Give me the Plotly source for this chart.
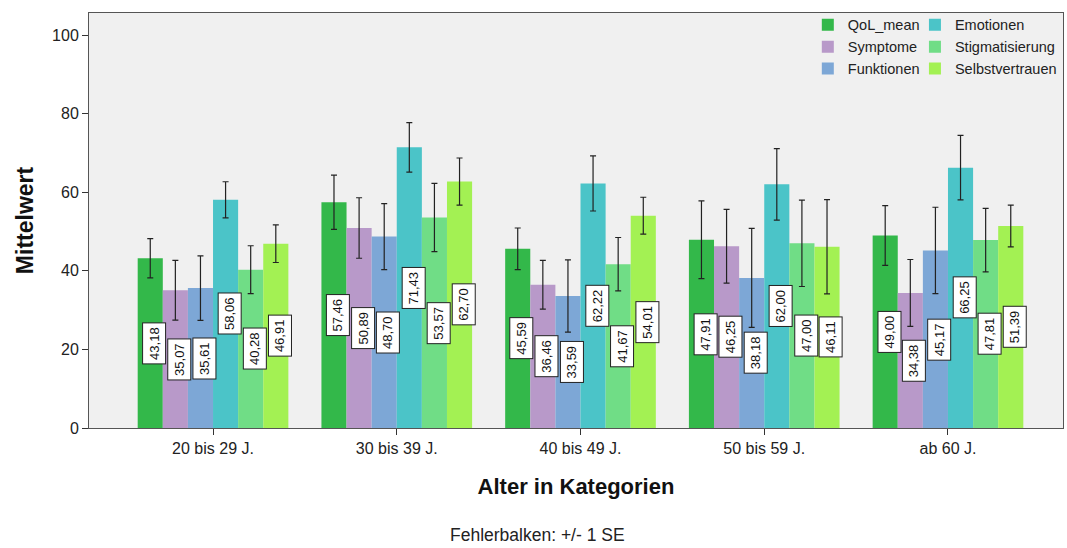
import plotly.graph_objects as go

categories = ["20 bis 29 J.", "30 bis 39 J.", "40 bis 49 J.", "50 bis 59 J.", "ab 60 J."]
series_names = ["QoL_mean", "Symptome", "Funktionen", "Emotionen", "Stigmatisierung", "Selbstvertrauen"]

qol_mean = [43.18, 57.46, 45.59, 47.91, 49.00]
symptome = [35.07, 50.89, 36.46, 46.25, 34.38]
funktionen = [35.61, 48.70, 33.59, 38.18, 45.17]
emotionen = [58.06, 71.43, 62.22, 62.00, 66.25]
stigmatisierung = [40.28, 53.57, 41.67, 47.00, 47.81]
selbstvertrauen = [46.91, 62.70, 54.01, 46.11, 51.39]

# standard errors
se_qol_mean = [5.0, 6.9, 5.3, 9.9, 7.6]
se_symptome = [7.6, 7.7, 6.2, 9.4, 8.5]
se_funktionen = [8.2, 8.4, 9.2, 12.6, 11.0]
se_emotionen = [4.6, 6.3, 7.0, 9.1, 8.2]
se_stigmatisierung = [6.1, 8.7, 6.8, 11.0, 8.1]
se_selbstvertrauen = [4.8, 6.0, 4.7, 12.0, 5.3]

values = [qol_mean, symptome, funktionen, emotionen, stigmatisierung, selbstvertrauen]
errors = [se_qol_mean, se_symptome, se_funktionen, se_emotionen, se_stigmatisierung, se_selbstvertrauen]
colors = ["#33b84a", "#b899c9", "#7da7d6", "#4bc4c8", "#70dd86", "#a3f153"]
legend_ids = ["legend", "legend", "legend", "legend2", "legend2", "legend2"]

FONT = "Liberation Sans, Arial, sans-serif"
fig = go.Figure()
for name, vals, errs, col, lg in zip(series_names, values, errors, colors, legend_ids):
    fig.add_trace(go.Bar(
        x=categories, y=vals, name=name, legend=lg,
        marker=dict(color=col, line=dict(width=0)),
        error_y=dict(type="data", array=errs, visible=True, color="#222222", thickness=1.2, width=3),
    ))

bargap = 0.18
cat_px = 974 / (4.626 + 0.675)
bar_px = cat_px * (1 - bargap) / 6
for i, vals in enumerate(values):
    for c, v in zip(categories, vals):
        fig.add_annotation(
            x=c, y=v / 2, xref="x", yref="y",
            text=f"{v:.2f}".replace(".", ","),
            textangle=-90, showarrow=False,
            xshift=(i - 2.5) * bar_px + 4,
            bgcolor="white", bordercolor="#222222", borderwidth=1, borderpad=3.5,
            font=dict(family=FONT, size=13, color="#111111"),
        )

fig.add_annotation(
    x=(537 - 89) / 974, y=(428 - 535) / 415, xref="paper", yref="paper", yanchor="middle",
    text="Fehlerbalken: +/- 1 SE", showarrow=False,
    font=dict(family=FONT, size=17.5, color="#222222"),
)

legend_common = dict(
    font=dict(family=FONT, size=14.5, color="#222222"),
    bgcolor="rgba(0,0,0,0)", orientation="v",
    yanchor="top", y=1.01, xanchor="left", tracegroupgap=0, itemwidth=30,
)

fig.update_layout(
    width=1067, height=548,
    margin=dict(l=89, r=4, t=13, b=120),
    paper_bgcolor="white", plot_bgcolor="#f0f0f0",
    barmode="group", bargap=bargap, bargroupgap=0,
    font=dict(family=FONT, size=15, color="#222222"),
    legend=dict(x=0.738, **legend_common),
    legend2=dict(x=0.848, **legend_common),
    xaxis=dict(
        type="category", range=[-0.675, 4.626],
        showline=True, linecolor="#555555", linewidth=1, mirror=True,
        ticks="outside", ticklen=6, tickcolor="#333333",
        tickfont=dict(family=FONT, size=16, color="#222222"),
        title=dict(text="<b>Alter in Kategorien</b>", font=dict(family=FONT, size=22, color="#111111"), standoff=22),
        showgrid=False, zeroline=False,
    ),
    yaxis=dict(
        range=[0, 105.6], tickvals=[0, 20, 40, 60, 80, 100],
        showline=True, linecolor="#555555", linewidth=1, mirror=True,
        ticks="outside", ticklen=6, tickcolor="#333333",
        tickfont=dict(family=FONT, size=16, color="#222222"),
        title=dict(text="<b>Mittelwert</b>", font=dict(family=FONT, size=23, color="#111111"), standoff=12),
        showgrid=False, zeroline=False,
    ),
)

fig.write_html("out.html", config={"displayModeBar": False},
               post_script="document.body.style.margin='0px';")
